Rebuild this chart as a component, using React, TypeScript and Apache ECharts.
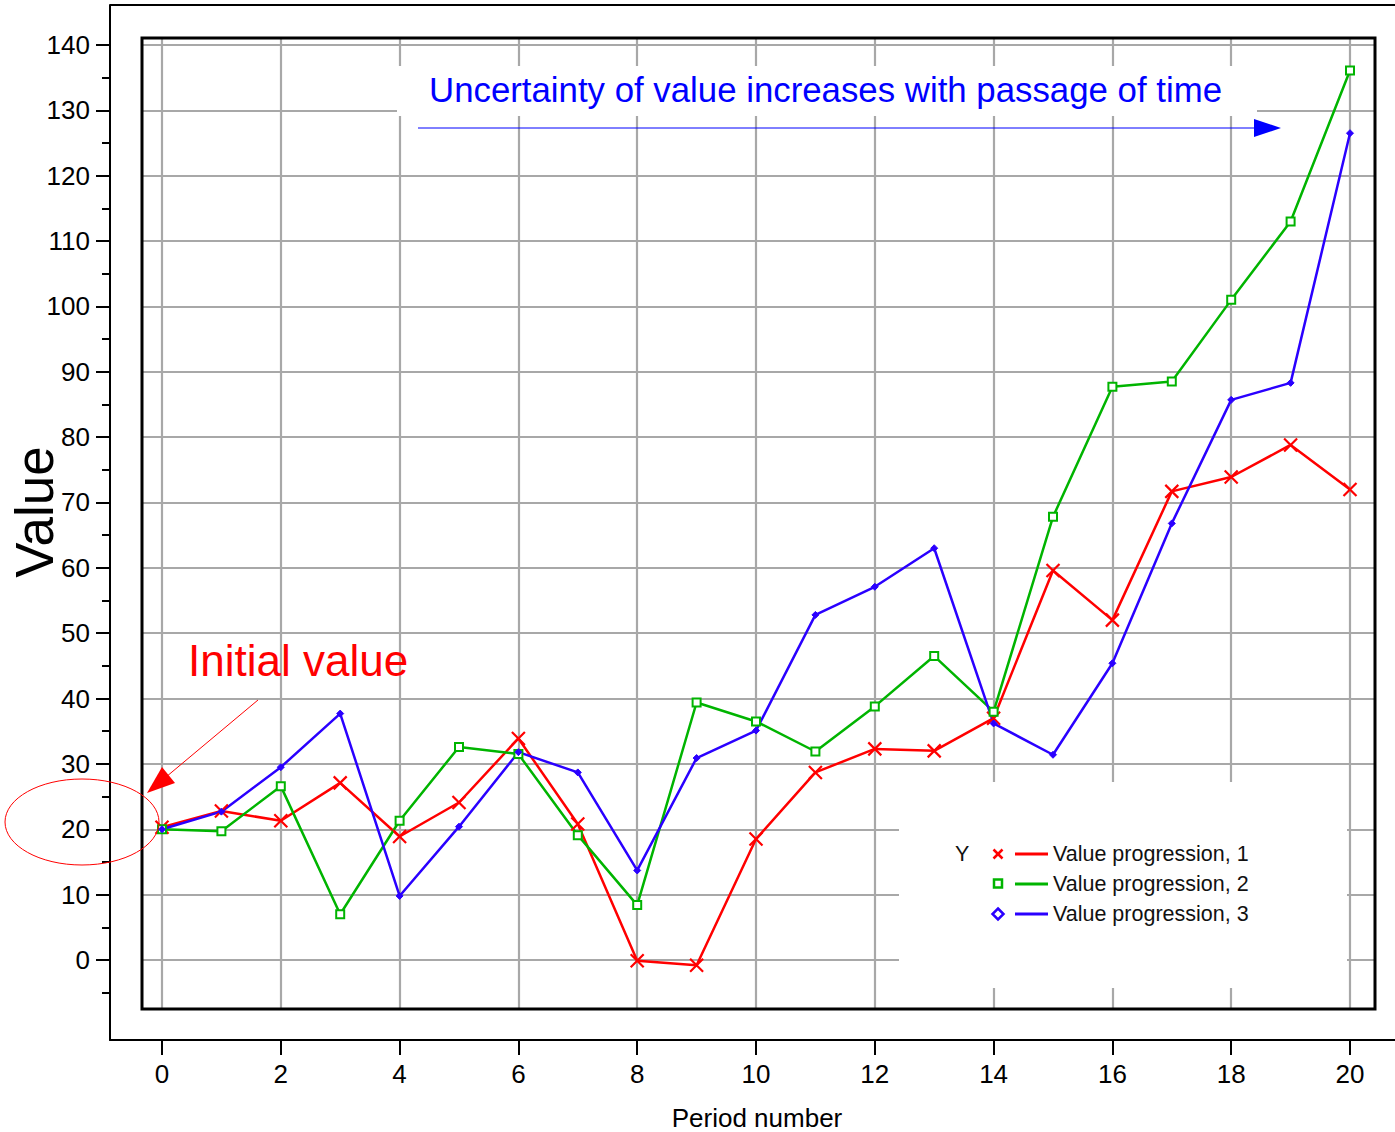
import React, { useEffect, useRef } from "react";
import * as echarts from "echarts";

const periods = [0, 1, 2, 3, 4, 5, 6, 7, 8, 9, 10, 11, 12, 13, 14, 15, 16, 17, 18, 19, 20];
const valueProgression1 = [20.3, 22.8, 21.3, 27.1, 18.9, 24.1, 33.9, 20.8, -0.1, -0.8, 18.5, 28.7, 32.3, 32.0, 37.0, 59.6, 52.0, 71.7, 73.9, 78.8, 72.0];
const valueProgression2 = [20.0, 19.7, 26.6, 7.0, 21.3, 32.6, 31.5, 19.1, 8.4, 39.4, 36.5, 31.9, 38.8, 46.5, 38.0, 67.8, 87.7, 88.5, 101.0, 113.0, 136.1];
const valueProgression3 = [20.0, 22.7, 29.5, 37.7, 9.8, 20.4, 31.8, 28.7, 13.7, 30.9, 35.1, 52.8, 57.1, 63.0, 36.2, 31.4, 45.4, 66.8, 85.7, 88.3, 126.5];
const seriesNames = ["Value progression, 1", "Value progression, 2", "Value progression, 3"];
const xTickValues = [0, 2, 4, 6, 8, 10, 12, 14, 16, 18, 20];
const yTickValues = [0, 10, 20, 30, 40, 50, 60, 70, 80, 90, 100, 110, 120, 130, 140];
const yMinorTickValues = [-5, 5, 15, 25, 35, 45, 55, 65, 75, 85, 95, 105, 115, 125, 135];
const titleText = "Uncertainty of value increases with passage of time";
const noteText = "Initial value";
const xAxisName = "Period number";
const yAxisName = "Value";
const legendTitle = "Y";

const FONT = '"Liberation Sans", Arial, Helvetica, sans-serif';
const RED = "#ff0000";
const GREEN = "#00b400";
const BLUE = "#2a00ff";
const GRID_GRAY = "#a8a8a8";

export default function App() {
  const ref = useRef<HTMLDivElement>(null);
  useEffect(() => {
    document.body.style.margin = "0";
    const chart = echarts.init(ref.current!, undefined, { renderer: "svg" });
    const pairs = (vals: number[]) => periods.map((p, i) => [p, vals[i]]);

    const legendRows = [
      { color: RED, name: seriesNames[0] },
      { color: GREEN, name: seriesNames[1] },
      { color: BLUE, name: seriesNames[2] },
    ];
    const legendGraphics: any[] = [];
    const rowY = [854, 884, 914];
    legendRows.forEach((r, i) => {
      const y = rowY[i];
      legendGraphics.push({
        type: "line",
        z: 12,
        shape: { x1: 1015, y1: y, x2: 1048, y2: y },
        style: { stroke: r.color, lineWidth: 3 },
      });
      legendGraphics.push({
        type: "text",
        z: 12,
        x: 1053,
        y: y,
        style: { text: r.name, fill: "#111", fontSize: 21.5, fontFamily: FONT, align: "left", verticalAlign: "middle" },
      });
    });
    legendGraphics.push(
      { type: "line", z: 12, shape: { x1: 993.5, y1: 849.5, x2: 1002.5, y2: 858.5 }, style: { stroke: RED, lineWidth: 2.5 } },
      { type: "line", z: 12, shape: { x1: 1002.5, y1: 849.5, x2: 993.5, y2: 858.5 }, style: { stroke: RED, lineWidth: 2.5 } },
      { type: "rect", z: 12, shape: { x: 994, y: 879.5, width: 8, height: 8 }, style: { fill: "#fff", stroke: GREEN, lineWidth: 2.5 } },
      { type: "polygon", z: 12, shape: { points: [[998, 908.5], [1003.5, 914], [998, 919.5], [992.5, 914]] }, style: { fill: "#fff", stroke: BLUE, lineWidth: 2.5 } },
      { type: "text", z: 12, x: 955, y: 854, style: { text: legendTitle, fill: "#111", fontSize: 21.5, fontFamily: FONT, align: "left", verticalAlign: "middle" } }
    );

    const option: any = {
      animation: false,
      backgroundColor: "#ffffff",
      grid: [
        { left: 110, top: 5, width: 1285, height: 1035, containLabel: false },
        { left: 142, top: 38, width: 1233, height: 971, containLabel: false },
      ],
      xAxis: [
        {
          gridIndex: 0,
          type: "value",
          min: -0.8754,
          max: 20.758,
          position: "bottom",
          axisLine: { show: true, onZero: false, lineStyle: { color: "#000", width: 2 } },
          axisTick: { show: true, customValues: xTickValues, length: 15, inside: false, lineStyle: { color: "#000", width: 2 } },
          axisLabel: { show: true, customValues: xTickValues, fontSize: 26, margin: 21, color: "#000", fontFamily: FONT },
          splitLine: { show: false },
        },
        { gridIndex: 1, type: "value", min: -0.3367, max: 20.4209, show: false, splitLine: { show: false } },
      ],
      yAxis: [
        {
          gridIndex: 0,
          type: "value",
          min: -12.24,
          max: 146.11,
          position: "left",
          axisLine: { show: true, onZero: false, lineStyle: { color: "#000", width: 2 } },
          axisTick: { show: true, customValues: yTickValues, length: 14, inside: false, lineStyle: { color: "#000", width: 2 } },
          axisLabel: { show: true, customValues: yTickValues, fontSize: 26, margin: 20, color: "#000", fontFamily: FONT },
          splitLine: { show: false },
        },
        {
          gridIndex: 0,
          type: "value",
          min: -12.24,
          max: 146.11,
          position: "left",
          axisLine: { show: false, onZero: false },
          axisTick: { show: true, customValues: yMinorTickValues, length: 8, inside: false, lineStyle: { color: "#000", width: 2 } },
          axisLabel: { show: false },
          splitLine: { show: false },
        },
        { gridIndex: 1, type: "value", min: -7.497, max: 141.065, show: false, splitLine: { show: false } },
      ],
      series: [
        {
          type: "line",
          name: "grid",
          xAxisIndex: 1,
          yAxisIndex: 2,
          data: [],
          z: 1,
          silent: true,
          markLine: {
            silent: true,
            z: 1,
            symbol: ["none", "none"],
            label: { show: false },
            emphasis: { disabled: true },
            lineStyle: { color: GRID_GRAY, width: 2.2, type: "solid" },
            data: [
              ...xTickValues.map((v) => ({ xAxis: v })),
              ...yTickValues.map((v) => ({ yAxis: v })),
            ],
          },
        },
        {
          type: "line",
          name: seriesNames[0],
          xAxisIndex: 1,
          yAxisIndex: 2,
          data: pairs(valueProgression1),
          z: 10,
          symbol: "path://M0,0L10,10M10,0L0,10",
          symbolSize: 13,
          showAllSymbol: true,
          lineStyle: { color: RED, width: 2.5 },
          itemStyle: { color: RED, borderColor: RED, borderWidth: 2.2 },
        },
        {
          type: "line",
          name: seriesNames[1],
          xAxisIndex: 1,
          yAxisIndex: 2,
          data: pairs(valueProgression2),
          z: 10,
          symbol: "emptyRect",
          symbolSize: 8,
          showAllSymbol: true,
          lineStyle: { color: GREEN, width: 2.5 },
          itemStyle: { color: GREEN, borderColor: GREEN, borderWidth: 2 },
        },
        {
          type: "line",
          name: seriesNames[2],
          xAxisIndex: 1,
          yAxisIndex: 2,
          data: pairs(valueProgression3),
          z: 10,
          symbol: "diamond",
          symbolSize: 7,
          showAllSymbol: true,
          lineStyle: { color: BLUE, width: 2.5 },
          itemStyle: { color: BLUE, borderColor: BLUE, borderWidth: 1 },
        },
      ],
      graphic: [
        { type: "line", z: 11, shape: { x1: 110, y1: 5, x2: 1395, y2: 5 }, style: { stroke: "#000", lineWidth: 2 } },
        { type: "rect", z: 6, shape: { x: 397, y: 66, width: 860, height: 50 }, style: { fill: "#fff" } },
        { type: "rect", z: 6, shape: { x: 899, y: 782, width: 448, height: 206 }, style: { fill: "#fff" } },
        { type: "rect", z: 11, shape: { x: 142, y: 38, width: 1233, height: 971 }, style: { fill: "none", stroke: "#000", lineWidth: 3 } },
        { type: "text", z: 12, x: 429, y: 89, style: { text: titleText, fill: "#0000ff", fontSize: 34.8, fontFamily: FONT, align: "left", verticalAlign: "middle" } },
        { type: "line", z: 12, shape: { x1: 418, y1: 128, x2: 1256, y2: 128 }, style: { stroke: "#0000ff", lineWidth: 1 } },
        { type: "polygon", z: 12, shape: { points: [[1254, 119], [1281, 128], [1254, 137]] }, style: { fill: "#0000ff" } },
        { type: "text", z: 12, x: 188, y: 660, style: { text: noteText, fill: RED, fontSize: 44, fontFamily: FONT, align: "left", verticalAlign: "middle" } },
        { type: "line", z: 12, shape: { x1: 258, y1: 700, x2: 166, y2: 777 }, style: { stroke: RED, lineWidth: 1 } },
        { type: "polygon", z: 12, shape: { points: [[147, 793], [162, 767], [175, 783]] }, style: { fill: RED } },
        { type: "ellipse", z: 12, shape: { cx: 82, cy: 822, rx: 77, ry: 43 }, style: { fill: "none", stroke: RED, lineWidth: 1 } },
        { type: "text", z: 12, x: 757, y: 1118, style: { text: xAxisName, fill: "#000", fontSize: 26, fontFamily: FONT, align: "center", verticalAlign: "middle" } },
        { type: "text", z: 12, x: 34, y: 512, rotation: Math.PI / 2, style: { text: yAxisName, fill: "#000", fontSize: 53, fontFamily: FONT, align: "center", verticalAlign: "middle" } },
        ...legendGraphics,
      ],
    };
    chart.setOption(option);
    return () => chart.dispose();
  }, []);
  return (
    <div
      ref={ref}
      style={{ position: "fixed", left: 0, top: 0, width: 1395, height: 1132, background: "#fff" }}
    />
  );
}
